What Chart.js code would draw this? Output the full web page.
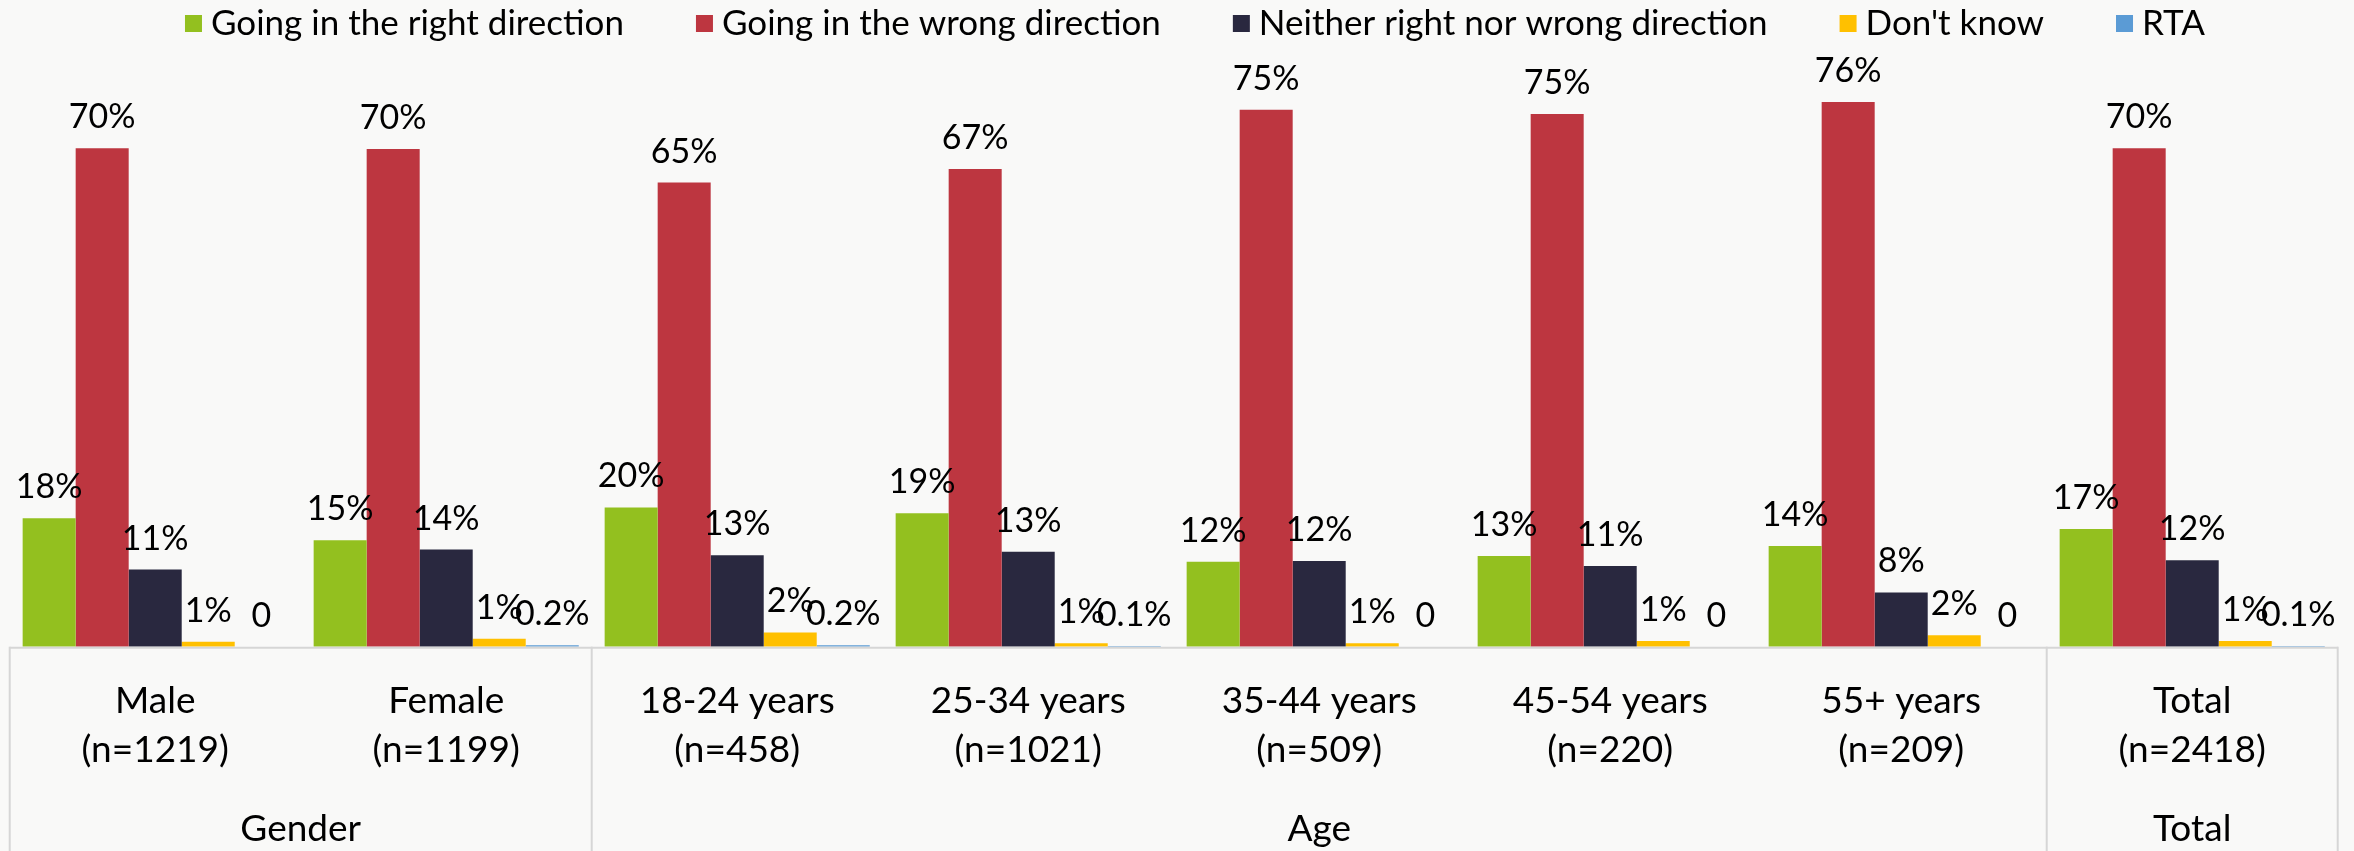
<!DOCTYPE html>
<html>
<head>
<meta charset="utf-8">
<script src="https://cdn.jsdelivr.net/npm/chart.js@4.4.1/dist/chart.umd.min.js"></script>
<style>
  html, body { margin: 0; padding: 0; background: #f9f9f8; }
</style>
</head>
<body>
<canvas id="directionChart" width="2354" height="851"></canvas>
<script>
// categories (two text lines each) and the groups they fall in
const categories = [
  ['Male', '(n=1219)'], ['Female', '(n=1199)'],
  ['18-24 years', '(n=458)'], ['25-34 years', '(n=1021)'], ['35-44 years', '(n=509)'],
  ['45-54 years', '(n=220)'], ['55+ years', '(n=209)'],
  ['Total', '(n=2418)']
];
const groups = ['Gender', 'Age', 'Total'];
const groupSizes = [2, 5, 1];

// percentages
const rightDirection = [18, 14.9, 19.5, 18.7, 11.9, 12.7, 14.1, 16.5];
const wrongDirection = [69.8, 69.7, 65, 66.9, 75.2, 74.6, 76.3, 69.8];
const neitherDirection = [10.8, 13.6, 12.8, 13.3, 12, 11.3, 7.6, 12.1];
const dontKnow = [0.7, 1.1, 2, 0.5, 0.5, 0.8, 1.6, 0.8];
const rta = [0, 0.2, 0.2, 0.1, 0, 0, 0, 0.1];

const FONT = 'Lato';
const LINE = '#d6d6d6';

function pctLabel(v) {
  if (v === 0) return '0';
  if (v < 0.5) return v.toFixed(1) + '%';
  return Math.round(v) + '%';
}

// value labels above every bar
const barLabels = {
  id: 'barLabels',
  afterDatasetsDraw(chart) {
    const ctx = chart.ctx;
    ctx.save();
    ctx.font = '34px ' + FONT;
    ctx.fillStyle = '#000';
    ctx.textAlign = 'center';
    ctx.textBaseline = 'alphabetic';
    chart.data.datasets.forEach((ds, i) => {
      chart.getDatasetMeta(i).data.forEach((bar, j) => {
        ctx.fillText(pctLabel(ds.data[j]), bar.x, bar.y - 20);
      });
    });
    ctx.restore();
  }
};

// legend drawn by hand so the spacing matches
const topLegend = {
  id: 'topLegend',
  afterDraw(chart) {
    const ctx = chart.ctx;
    const box = 17, gap = 9, spacing = 72;
    ctx.save();
    ctx.font = '35px ' + FONT;
    const items = chart.data.datasets.map(ds => ({
      text: ds.label, color: ds.backgroundColor, w: ctx.measureText(ds.label).width
    }));
    const total = items.reduce((s, it) => s + box + gap + it.w, 0) + spacing * (items.length - 1);
    let x = chart.width / 2 + 18 - total / 2;
    const y = 23;
    ctx.textBaseline = 'middle';
    ctx.textAlign = 'left';
    items.forEach(it => {
      ctx.fillStyle = it.color;
      ctx.fillRect(x, y - 8, box, box);
      ctx.fillStyle = '#000';
      ctx.fillText(it.text, x + box + gap, y + 1);
      x += box + gap + it.w + spacing;
    });
    ctx.restore();
  }
};

// table lines under the bars and the group names
const groupTable = {
  id: 'groupTable',
  afterDraw(chart) {
    const ctx = chart.ctx;
    const xs = chart.scales.x;
    const area = chart.chartArea;
    const half = (xs.getPixelForValue(1) - xs.getPixelForValue(0)) / 2;
    const bottom = chart.height;
    ctx.save();
    ctx.strokeStyle = LINE;
    ctx.lineWidth = 2;
    ctx.beginPath();
    ctx.moveTo(area.left, area.bottom + 1);
    ctx.lineTo(area.right, area.bottom + 1);
    ctx.stroke();

    ctx.font = '37px ' + FONT;
    ctx.fillStyle = '#000';
    ctx.textAlign = 'center';
    ctx.textBaseline = 'alphabetic';
    let start = 0;
    const edges = [xs.getPixelForValue(0) - half];
    groups.forEach((g, k) => {
      const end = start + groupSizes[k] - 1;
      const left = xs.getPixelForValue(start) - half;
      const right = xs.getPixelForValue(end) + half;
      edges.push(right);
      ctx.fillText(g, (left + right) / 2, 841);
      start = end + 1;
    });
    edges.forEach(ex => {
      ctx.beginPath();
      ctx.moveTo(ex, area.bottom);
      ctx.lineTo(ex, bottom);
      ctx.stroke();
    });
    ctx.restore();
  }
};

const ctx = document.getElementById('directionChart').getContext('2d');
const directionChart = new Chart(ctx, {
  type: 'bar',
  data: {
    labels: categories,
    datasets: [
      { label: 'Going in the right direction', data: rightDirection, backgroundColor: '#93c01f' },
      { label: 'Going in the wrong direction', data: wrongDirection, backgroundColor: '#bd3640' },
      { label: 'Neither right nor wrong direction', data: neitherDirection, backgroundColor: '#29283f' },
      { label: "Don't know", data: dontKnow, backgroundColor: '#ffc000' },
      { label: 'RTA', data: rta, backgroundColor: '#5b9bd5' }
    ]
  },
  options: {
    responsive: false,
    animation: false,
    devicePixelRatio: 1,
    layout: { padding: { top: 75.5, left: 9.7, right: 16.3, bottom: 0 } },
    datasets: {
      bar: { barPercentage: 1, categoryPercentage: 0.911 }
    },
    plugins: {
      legend: { display: false },
      tooltip: { enabled: false }
    },
    scales: {
      x: {
        grid: { display: false, drawTicks: false },
        border: { display: false },
        ticks: {
          color: '#000',
          font: { family: FONT, size: 37, lineHeight: 1.32 },
          padding: 30,
          maxRotation: 0,
          autoSkip: false
        },
        afterFit(axis) { axis.height = 204.3; }
      },
      y: {
        display: false,
        min: 0,
        max: 80
      }
    }
  },
  plugins: [barLabels, topLegend, groupTable]
});
</script>
</body>
</html>
